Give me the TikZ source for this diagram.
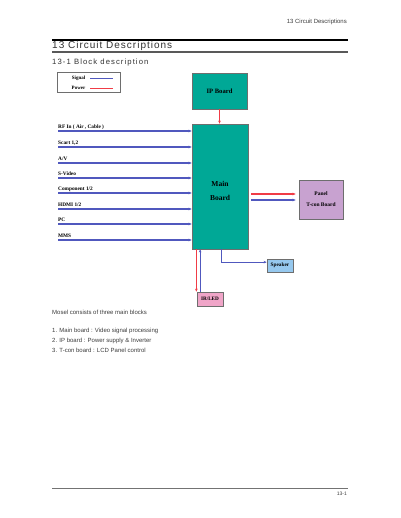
\documentclass[tikz,border=0pt]{standalone}
\usepackage{fontspec}
\setmainfont{Liberation Sans}
\newfontfamily\dserif{Liberation Serif}
\newfontfamily\titlefont[LetterSpace=10]{Liberation Sans}
\newfontfamily\subfont[LetterSpace=14]{Liberation Sans}
\usetikzlibrary{arrows.meta,calc}
\definecolor{sigc}{RGB}{80,88,190}
\definecolor{powc}{RGB}{240,60,70}
\definecolor{tealb}{RGB}{0,168,150}
\definecolor{panelc}{RGB}{200,162,208}
\definecolor{spkc}{RGB}{150,200,238}
\definecolor{irc}{RGB}{240,165,200}
\definecolor{bordc}{RGB}{110,110,110}
\definecolor{txtc}{RGB}{60,60,60}
\begin{document}
\begin{tikzpicture}[x=1pt,y=-1pt,
 sig/.style={draw=sigc,line width=1.1pt},
 pow/.style={draw=powc,line width=1.1pt},
 tip/.style={-{Stealth[length=3pt,width=2.6pt]}},
 blk/.style={draw=bordc,line width=0.7pt,inner sep=0pt,align=center},
 lab/.style={inner sep=0pt,font=\dserif\bfseries\fontsize{5.3}{6}\selectfont,anchor=base west},
 body/.style={inner sep=0pt,anchor=west,text=txtc,font=\fontsize{6}{7}\selectfont},
]
\useasboundingbox[fill=white] (0,0) rectangle (400,518);

% page header
\node[inner sep=0pt,anchor=east,text=txtc,font=\fontsize{6}{7}\selectfont] (hdr) at (347,22) {13 Circuit Descriptions};
\coordinate (r1a) at (52,40); \coordinate (r1b) at (348,40);
\draw[line width=1.8pt,black] (r1a) -- (r1b);
\node[inner sep=0pt,anchor=west,text=black!80,font=\titlefont\fontsize{10}{12}\selectfont] (title) at (52,45.5) {13 Circuit Descriptions};
\coordinate (r2a) at (52,52); \coordinate (r2b) at (348,52);
\draw[line width=1.5pt,black!65] (r2a) -- (r2b);
\node[inner sep=0pt,anchor=west,text=black!80,font=\subfont\fontsize{7.7}{9}\selectfont] (sub) at (52,62.3) {13-1 Block description};

% legend
\node[draw=bordc,line width=0.5pt,minimum width=63pt,minimum height=20pt,inner sep=0pt] (leg) at (88.5,82) {};
\node[inner sep=0pt,font=\dserif\bfseries\fontsize{5}{6}\selectfont] (lsig) at (78.5,78) {Signal};
\node[inner sep=0pt,font=\dserif\bfseries\fontsize{5}{6}\selectfont] (lpow) at (78.5,88) {Power};
\coordinate (ls1) at (90,78); \coordinate (ls2) at (113,78);
\coordinate (lp1) at (90,88); \coordinate (lp2) at (113,88);
\draw[sig,line width=0.9pt] (ls1) -- (ls2);
\draw[pow,line width=0.9pt] (lp1) -- (lp2);

% blocks
\node[blk,fill=tealb,minimum width=55pt,minimum height=36pt,font=\dserif\bfseries\fontsize{6.6}{8}\selectfont] (ip) at (219.5,91) {IP Board};
\node[blk,fill=tealb,minimum width=56pt,minimum height=125pt] (main) at (220,186.5) {};
\node[inner sep=0pt,align=center,font=\dserif\bfseries\fontsize{7.5}{14}\selectfont] (maint) at (220,191) {Main\\Board};
\node[blk,fill=panelc,minimum width=44pt,minimum height=39pt,font=\dserif\bfseries\fontsize{5.5}{11}\selectfont] (panel) at (321,199.5) {Panel\\T-con Board};
\node[blk,fill=spkc,minimum width=26pt,minimum height=13pt,font=\dserif\bfseries\fontsize{5.3}{6}\selectfont] (spk) at (280,265.5) {Speaker};
\node[blk,fill=irc,minimum width=26pt,minimum height=14pt,font=\dserif\bfseries\fontsize{5.2}{6}\selectfont] (ir) at (210,299) {IR/LED};

% IP -> Main
\draw[pow,tip] (ip.south) -- (main.north -| ip.south);

% inputs
\foreach \yy/\lbl [count=\i] in {131/{RF In ( Air , Cable )},147/{Scart 1,2},163/{A/V},178/{S-Video},193/{Component 1/2},209/{HDMI 1/2},224/{PC},240/{MMS}} {
  \node[lab] (in\i) at (58,\yy-2.6) {\lbl};
  \coordinate (s\i) at (58,\yy);
  \draw[sig,tip] (s\i) -- (s\i -| main.west);
}

% Main -> Panel
\draw[pow,tip,shorten <=3pt,shorten >=3pt] (main.east |- 0,194) -- (panel.west |- 0,194);
\draw[sig,tip,shorten <=3pt,shorten >=3pt] (main.east |- 0,200) -- (panel.west |- 0,200);

% Main -> Speaker
\coordinate (spin) at ($(spk.north west)+(0,3.5)$);
\coordinate (mspk) at (main.south -| 221,0);
\draw[sig,tip,line width=0.9pt] (mspk) |- (spin);

% Main <-> IR/LED
\coordinate (irr) at ($(ir.north west)+(-0.3,0)$);
\draw[pow,tip,line width=0.9pt] (main.south -| irr) -- (irr);
\coordinate (irb) at ($(ir.north west)+(3.5,0)$);
\draw[sig,tip,line width=0.9pt] (irb) -- (irb |- main.south);

% body text
\node[body] (t0) at (52,312.5) {Mosel consists of three main blocks};
\node[body] (t1) at (52,330.5) {1. Main board : Video signal processing};
\node[body] (t2) at (52,340.5) {2. IP board : Power supply \& Inverter};
\node[body] (t3) at (52,350.5) {3. T-con board : LCD Panel control};

% footer
\coordinate (r3a) at (52,488); \coordinate (r3b) at (348,488);
\draw[line width=0.9pt,black!55] (r3a) -- (r3b);
\node[inner sep=0pt,anchor=east,text=txtc,font=\fontsize{5}{6}\selectfont] (pg) at (347,493.5) {13-1};
\end{tikzpicture}
\end{document}
